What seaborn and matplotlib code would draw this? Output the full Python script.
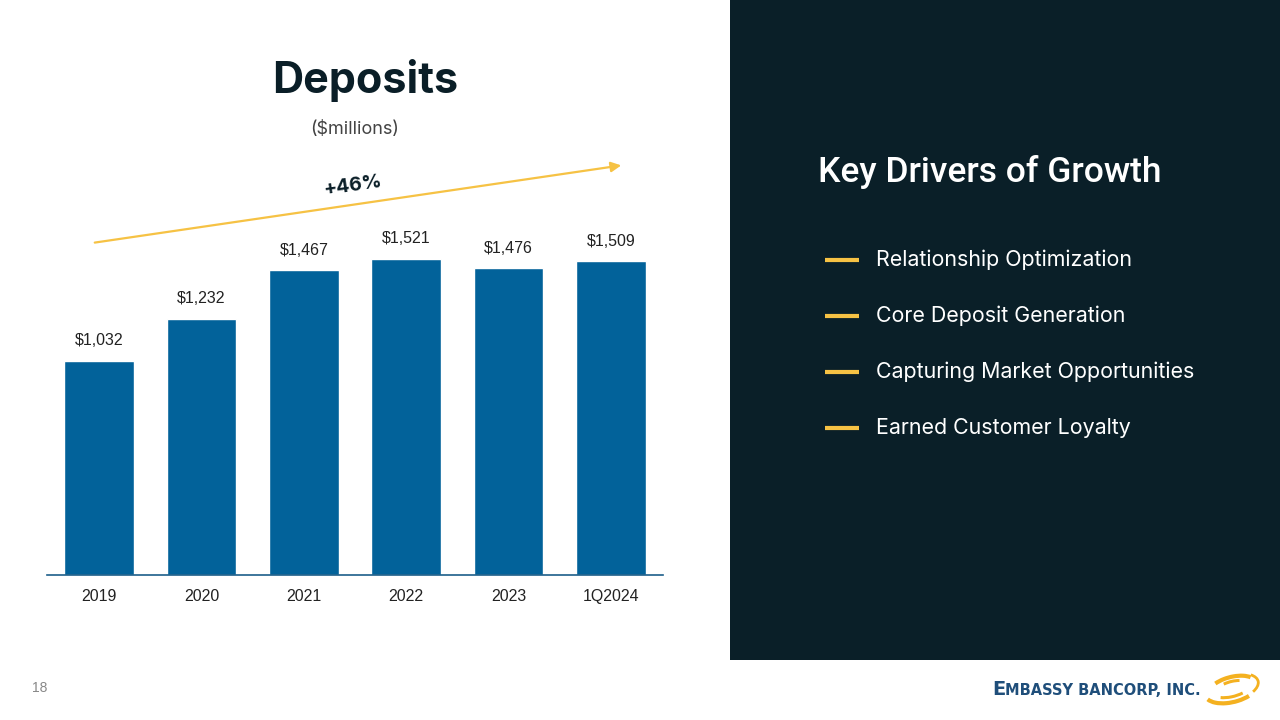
import matplotlib
matplotlib.use("Agg")
import matplotlib.pyplot as plt
from matplotlib.patches import Rectangle, Arc, FancyArrowPatch
import seaborn as sns
import pandas as pd

categories = ["2019", "2020", "2021", "2022", "2023", "1Q2024"]
deposits = [1032, 1232, 1467, 1521, 1476, 1509]
value_labels = ["$1,032", "$1,232", "$1,467", "$1,521", "$1,476", "$1,509"]
drivers = ["Relationship Optimization", "Core Deposit Generation",
           "Capturing Market Opportunities", "Earned Customer Loyalty"]

BAR = "#02629a"
DARK = "#0a1e27"
YELLOW = "#f6c244"

sns.set_theme(style="white")
plt.rcParams["font.family"] = ["Liberation Sans", "DejaVu Sans"]

fig = plt.figure(figsize=(12.8, 7.2), dpi=100)
fig.patch.set_facecolor("white")

W, H = 1280, 720
def fx(px): return px / W
def fy(py): return 1 - py / H

# dark panel
fig.patches.append(Rectangle((fx(730), fy(660)), fx(1280) - fx(730), fy(0) - fy(660),
                             transform=fig.transFigure, facecolor="#0a1f28",
                             edgecolor="none", zorder=0))

# bar chart axes
ax = fig.add_axes([fx(47), fy(575), fx(663) - fx(47), fy(140) - fy(575)])
df = pd.DataFrame({"period": categories, "deposits": deposits})
sns.barplot(data=df, x="period", y="deposits", color=BAR, saturation=1,
            width=0.68, ax=ax)
ax.set_xlim(-0.51, 5.51)
ax.set_ylim(0, 2093)
ax.set_facecolor("none")
for s in ["top", "right", "left"]:
    ax.spines[s].set_visible(False)
ax.spines["bottom"].set_color("#1d5f8a")
ax.spines["bottom"].set_linewidth(1.2)
ax.set_yticks([])
ax.set_xlabel("")
ax.set_ylabel("")
ax.tick_params(axis="x", length=0, pad=10, labelsize=11.5, labelcolor="#222222")
ax.bar_label(ax.containers[0], labels=value_labels, padding=9, fontsize=11.5,
             color="#222222")

# title
fig.text(fx(365), fy(80), "Deposits", ha="center", va="center", fontsize=31,
         fontweight="bold", color=DARK, family=["Inter", "DejaVu Sans"])
fig.text(fx(355), fy(130), "($millions)", ha="center", va="center", fontsize=13,
         color="#444444", family=["Inter", "DejaVu Sans"])

# growth arrow
arr = FancyArrowPatch((fx(92), fy(243)), (fx(624), fy(165)),
                      transform=fig.transFigure, arrowstyle="-|>,head_length=5,head_width=2.5",
                      color=YELLOW, lw=1.6, mutation_scale=1.2)
fig.patches.append(arr)
fig.text(fx(353), fy(186), "+46%", ha="center", va="center", fontsize=14,
         fontweight="bold", color=DARK, rotation=8.3,
         family=["Inter", "DejaVu Sans"])

# right panel
fig.text(fx(818), fy(172), "Key Drivers of Growth", ha="left", va="center",
         fontsize=25.5, fontweight="medium", color="white",
         family=["Roboto", "DejaVu Sans"])
for i, d in enumerate(drivers):
    y = 260 + i * 56
    fig.lines.append(plt.Line2D([fx(825), fx(859)], [fy(y), fy(y)],
                                transform=fig.transFigure, color=YELLOW, lw=3,
                                solid_capstyle="butt"))
    fig.text(fx(876), fy(y), d, ha="left", va="center", fontsize=15.4,
             color="white", family=["Inter", "DejaVu Sans"])

# page number
fig.text(fx(40), fy(688), "18", ha="center", va="center", fontsize=10,
         color="#888888")

# logo text (small caps imitation)
logo_blue = "#1f4e7a"
x = 992
pieces = [("E", 14), ("MBASSY BANCORP, INC.", 10.5)]
renderer = fig.canvas.get_renderer()
for txt, size in pieces:
    t = fig.text(fx(x), fy(695), txt, ha="left", va="baseline", fontsize=size,
                 fontweight="bold", color=logo_blue, family=["DejaVu Sans"])
    bb = t.get_window_extent(renderer=renderer)
    x += bb.width

# swirl
cx, cy = 1232, 720 - 688
for (w, h, ang, t1, t2, lw) in [(56, 28, 15, 190, 320, 3.0), (48, 22, 15, 15, 150, 3.0),
                                 (40, 17, 15, 205, 320, 2.2), (32, 13, 15, 30, 140, 2.2),
                                 (54, 26, 15, 335, 20, 2.0)]:
    a = Arc((cx, cy), w, h, angle=ang, theta1=t1, theta2=t2,
            transform=None, color="#f4b120", lw=lw)
    fig.patches.append(a)

fig.savefig("out.png", dpi=100)
